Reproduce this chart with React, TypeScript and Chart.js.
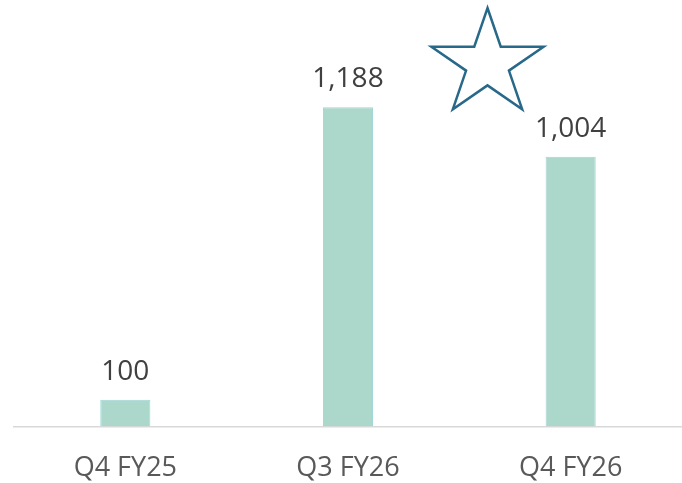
import React, { useEffect, useRef } from "react";
import { Chart, registerables } from "chart.js";

Chart.register(...registerables);

const categories = ["Q4 FY25", "Q3 FY26", "Q4 FY26"];
const values = [100, 1188, 1004];

const FONT = "'Open Sans', 'Liberation Sans', sans-serif";

const labelPlugin = {
  id: "valueLabels",
  afterDatasetsDraw(chart: any) {
    const ctx = chart.ctx;
    const meta = chart.getDatasetMeta(0);
    ctx.save();
    ctx.font = `28px ${FONT}`;
    ctx.fillStyle = "#404040";
    ctx.textAlign = "center";
    ctx.textBaseline = "alphabetic";
    meta.data.forEach((bar: any, i: number) => {
      ctx.fillText(values[i].toLocaleString("en-US"), bar.x, bar.y - 20);
    });
    ctx.restore();
  },
};

const starPlugin = {
  id: "star",
  afterDraw(chart: any, _args: any, opts: any) {
    const ctx = chart.ctx;
    const { cx, cy, rx, ry, inner } = opts;
    ctx.save();
    ctx.beginPath();
    for (let k = 0; k < 10; k++) {
      const a = -Math.PI / 2 + (k * Math.PI) / 5;
      const f = k % 2 === 0 ? 1 : inner;
      const x = cx + Math.cos(a) * rx * f;
      const y = cy + Math.sin(a) * ry * f;
      if (k === 0) ctx.moveTo(x, y);
      else ctx.lineTo(x, y);
    }
    ctx.closePath();
    ctx.lineWidth = 2.5;
    ctx.lineJoin = "miter";
    ctx.strokeStyle = "#28698a";
    ctx.stroke();
    ctx.restore();
  },
};

export default function App() {
  const ref = useRef<HTMLCanvasElement>(null);
  useEffect(() => {
    if (!ref.current) return;
    const chart = new Chart(ref.current, {
      type: "bar",
      data: {
        labels: categories,
        datasets: [
          {
            data: values,
            backgroundColor: "#acd7cb",
            borderColor: "#9fd6d6",
            borderWidth: 1,
            categoryPercentage: 1,
            barPercentage: 0.225,
          },
        ],
      },
      options: {
        responsive: false,
        animation: false,
        layout: { padding: { top: 10, left: 14, right: 0, bottom: -28 } },
        plugins: {
          legend: { display: false },
          tooltip: { enabled: false },
          star: { cx: 487.5, cy: 64, rx: 59, ry: 56, inner: 0.382 },
        } as any,
        scales: {
          x: {
            grid: { display: false, drawTicks: false },
            border: { display: true, color: "#d9d9d9", width: 1.5 },
            ticks: {
              color: "#595959",
              font: { family: FONT, size: 27 },
              padding: 26,
            },
          },
          y: {
            display: false,
            min: 0,
            max: 1550,
          },
        },
      },
      plugins: [labelPlugin, starPlugin],
    });
    return () => chart.destroy();
  }, []);
  return (
    <div style={{ position: "fixed", left: 0, top: 0, width: 682, height: 483, background: "#fff" }}>
      <canvas ref={ref} width={682} height={483} style={{ display: "block" }} />
    </div>
  );
}
